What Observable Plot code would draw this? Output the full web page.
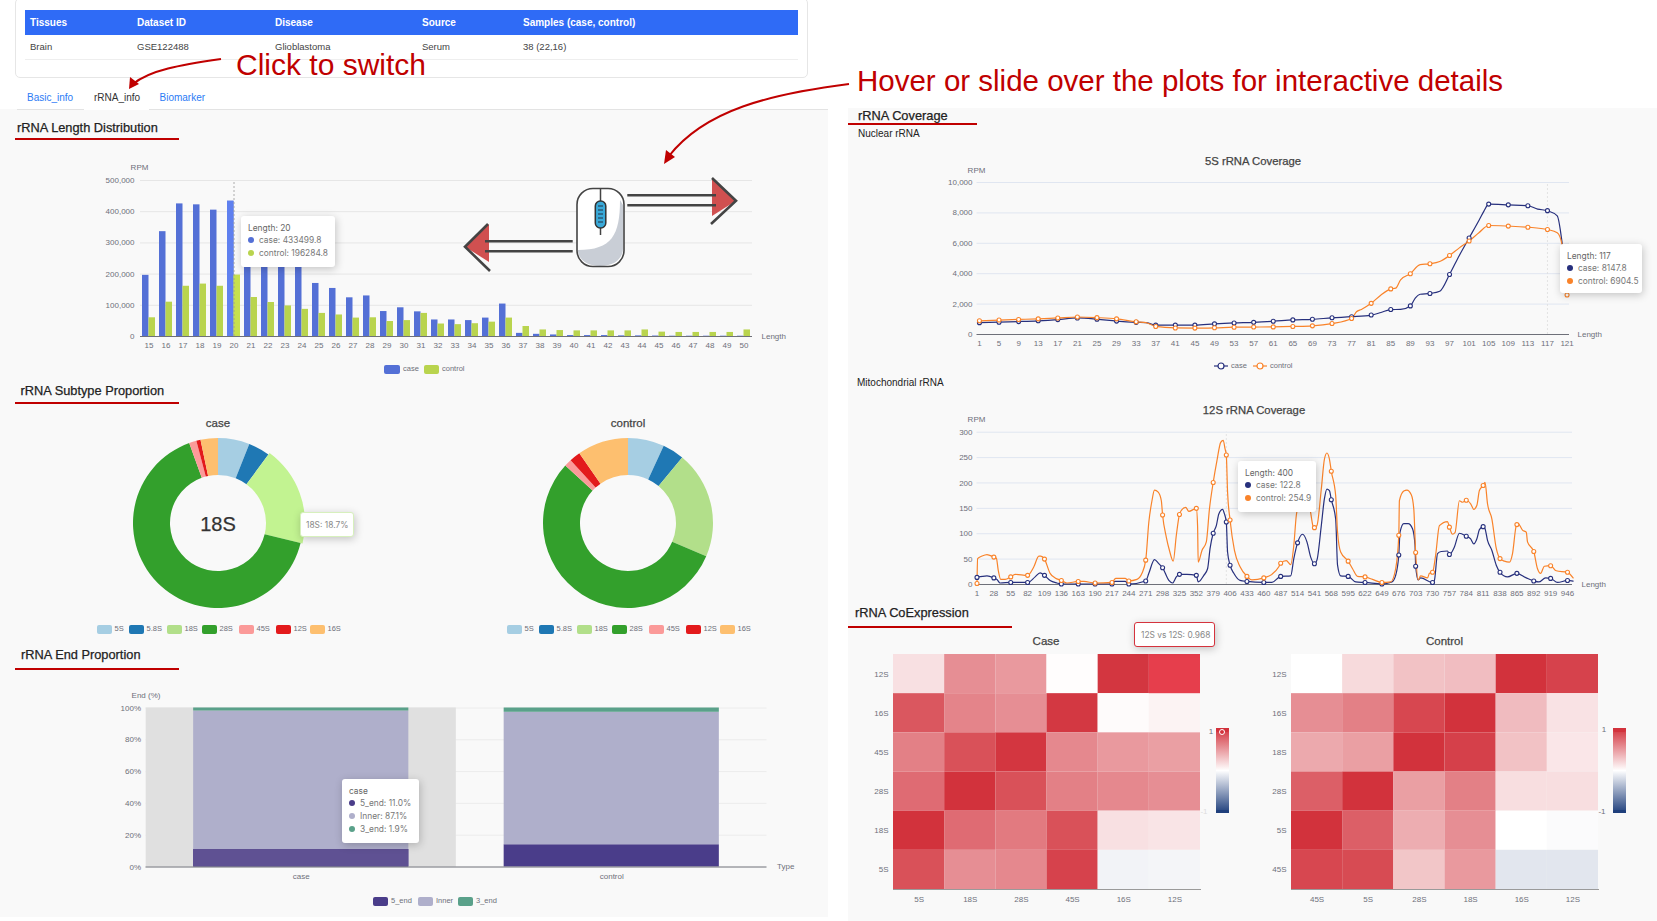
<!DOCTYPE html>
<html><head><meta charset="utf-8">
<script src="https://cdn.jsdelivr.net/npm/d3@7"></script>
<script src="https://cdn.jsdelivr.net/npm/@observablehq/plot@0.6"></script>
<style>
html,body{margin:0;padding:0;background:#fff;}
#app{position:relative;width:1657px;height:921px;overflow:hidden;background:#fff;font-family:"Liberation Sans",Arial,sans-serif;}
#app svg{position:absolute;}
.t{position:absolute;white-space:nowrap;line-height:1;}
.box{position:absolute;}
.tip{position:absolute;background:#fff;border-radius:3px;box-shadow:1px 2px 8px rgba(0,0,0,.22);font:8.4px Inter,sans-serif;color:#666;box-sizing:border-box;}
.tip div{position:absolute;white-space:nowrap;line-height:1;}
.tip i{position:absolute;width:6px;height:6px;border-radius:50%;}
</style></head><body><div id="app"></div>
<script>
// ---------- data ----------
const lengths = [15,16,17,18,19,20,21,22,23,24,25,26,27,28,29,30,31,32,33,34,35,36,37,38,39,40,41,42,43,44,45,46,47,48,49,50];
const caseRPM = [196000,336000,425000,422000,405000,433500,258000,240000,235000,228000,170000,154000,124000,130000,80000,92000,79000,53000,53000,51000,59000,104000,10000,7000,5000,3000,3000,3000,2000,2000,1500,1000,1000,1000,1000,1000];
const controlRPM = [60000,110000,161000,168000,161000,196285,125000,109000,98000,87000,74000,69000,59000,60000,48000,51000,74000,40000,38000,41000,46000,59000,32000,21000,19000,18000,18000,18000,18000,21000,14000,13000,13000,13000,13000,21000];
const subtypes = ["5S","5.8S","18S","28S","45S","12S","16S"];
const subtypeColors = ["#a6cee3","#1f78b4","#b2df8a","#33a02c","#fb9a99","#e31a1c","#fdbf6f"];
const casePct = [6.0,4.1,18.7,65.7,1.4,0.8,3.3];
const controlPct = [6.9,4.1,20.4,55.4,1.4,2.1,9.7];
const endTypes = ["5_end","Inner","3_end"];
const endColors = ["#4a3d8a","#afafcb","#5aa18a"];
const endCase = [11.0,87.1,1.9];
const endControl = [14.0,83.3,2.7];
const s5Ticks = [1,5,9,13,17,21,25,29,33,37,41,45,49,53,57,61,65,69,73,77,81,85,89,93,97,101,105,109,113,117,121];
const s5CaseX = [1,5,9,13,17,21,25,29,33,35,37,41,45,49,53,57,61,65,69,73,77,81,83,85,87,89,90,91,93,95,97,99,101,103,104,105,109,113,115,117,119,120,121];
const s5CaseY = [780,810,850,900,980,1090,1010,880,800,780,620,620,620,700,760,800,870,960,1000,1100,1170,1280,1450,1640,1650,1880,2400,2650,2700,2850,3950,5200,6350,7500,8100,8580,8530,8470,8250,8148,7800,6000,3000];
const s5ControlX = [1,5,9,13,17,21,25,29,33,35,37,41,45,49,53,57,61,65,69,73,77,78,79,81,83,85,86,87,89,91,93,95,97,99,101,103,105,109,113,117,119,120,121];
const s5ControlY = [900,950,990,1030,1090,1150,1110,1030,840,780,530,430,420,440,480,490,500,530,570,720,1050,1500,1650,2050,2600,3000,3050,3600,4000,4600,4650,4800,5200,5700,6150,6700,7170,7130,7060,6905,6700,5900,2600];
const s12Ticks = [1,28,55,82,109,136,163,190,217,244,271,298,325,352,379,406,433,460,487,514,541,568,595,622,649,676,703,730,757,784,811,838,865,892,919,946];
const s12ControlX = [1,2,9,17,28,32,35,39,46,55,62,82,92,100,103,109,118,126,136,145,163,172,190,217,223,238,244,257,265,271,276,281,285,291,296,298,304,309,315,320,325,328,335,340,352,354,355,361,368,373,379,385,391,395,398,400,402,406,413,422,433,441,460,473,484,487,496,503,508,512,514,522,530,535,539,541,545,552,557,561,565,568,575,578,583,595,602,610,622,634,649,663,671,676,677,684,689,696,700,703,707,711,722,725,730,735,741,754,757,762,766,773,778,784,791,796,801,805,811,814,818,825,832,838,845,853,858,864,865,867,874,880,882,892,898,903,909,919,928,946,955];
const s12ControlY = [2,51,56,59,54,52,28,10,10,15,20,18,35,56,56,50,22,13,8,3,6,6,3,4,12,12,7,10,22,48,123,165,186,182,165,137,93,67,46,97,138,146,152,144,150,116,44,67,84,149,201,244,280,284,267,255,182,127,67,35,16,9,13,20,35,42,47,39,77,136,150,178,175,141,114,112,116,188,247,259,247,223,175,103,64,46,31,16,15,10,4,5,31,97,165,184,186,177,149,63,9,17,13,22,24,58,116,124,113,99,102,165,162,166,159,148,156,185,195,201,159,129,71,51,46,44,61,116,118,120,107,103,84,65,31,22,36,37,27,24,13];
const s12CaseX = [1,17,28,33,38,55,82,94,102,109,118,129,136,163,190,217,222,238,244,271,276,285,292,298,308,314,320,325,337,352,355,364,370,374,379,384,388,394,397,400,402,406,412,422,433,460,473,484,487,503,508,514,522,529,535,541,545,552,557,561,565,568,575,578,583,595,607,622,649,665,671,676,678,684,691,698,702,703,707,711,730,733,738,744,754,757,765,773,784,791,796,801,805,811,814,818,825,832,838,850,865,880,892,900,911,919,930,946,955];
const s12CaseY = [14,17,13,10,3,4,4,15,23,18,8,3,1,1,1,1,6,6,1,7,22,49,41,33,8,3,15,20,20,18,5,18,31,71,101,116,139,148,139,123,64,38,22,8,6,4,4,14,16,17,51,82,99,84,54,41,48,116,169,188,185,167,129,38,17,16,5,4,1,5,18,58,103,120,120,110,77,36,9,13,4,8,61,65,66,59,74,101,95,90,80,90,108,114,110,87,67,38,24,15,22,13,7,5,13,12,4,8,6.5];
const heatCaseX = ["5S","18S","28S","45S","16S","12S"];
const heatCaseY = ["12S","16S","45S","28S","18S","5S"];
const heatCaseV = [[.15,.55,.50,.01,.98,.968],[.82,.60,.55,.97,.02,.06],[.62,.85,.98,.58,.50,.47],[.72,1,.85,.62,.58,.55],[1,.72,.65,.85,.15,.13],[.85,.55,.58,.92,-.06,-.05]];
const heatControlX = ["45S","5S","28S","18S","16S","12S"];
const heatControlY = ["12S","16S","18S","28S","5S","45S"];
const heatControlV = [[0,.18,.30,.32,1,.92],[.55,.62,.90,1,.33,.14],[.42,.47,1,.93,.30,.12],[.78,1,.47,.62,.16,.16],[1,.78,.40,.55,0,-.02],[.90,.88,.28,.50,-.13,-.13]];
const tableHead = ["Tissues","Dataset ID","Disease","Source","Samples (case, control)"];
const tableRow = ["Brain","GSE122488","Glioblastoma","Serum","38 (22,16)"];

// ---------- helpers ----------
const app = document.getElementById("app");
const FONT = "'Liberation Sans', Arial, sans-serif";
const GREY = "#6e7079";
const CASEC = "#27307d", CTRLC = "#f9832a";
function box(x,y,w,h,css){const d=document.createElement("div");d.className="box";d.style.cssText=`left:${x}px;top:${y}px;width:${w}px;height:${h}px;${css||""}`;app.appendChild(d);return d;}
function txt(x,y,s,o={}){const d=document.createElement("div");d.className="t";d.textContent=s;
  const a=o.anchor==="middle"?"-50%":o.anchor==="end"?"-100%":"0";
  d.style.cssText=`left:${x}px;top:${y}px;transform:translate(${a},-50%);font-size:${o.size||10}px;color:${o.color||"#333"};font-weight:${o.weight||400};font-family:${o.font||FONT};${o.med?"-webkit-text-stroke:.25px currentColor;":""}`;
  app.appendChild(d);return d;}
function mount(p,left,top){p.style.left=left+"px";p.style.top=top+"px";app.appendChild(p);}
const baseStyle = {background:"transparent",fontFamily:FONT,fontSize:"8px",color:GREY,overflow:"visible"};
function section(title,x,y,uy,uw,ux){txt(x,y,title,{size:12.8,color:"#222",med:true});box(ux,uy,uw,2,"background:#c00000");}
function tip(x,y,w,h,head,rows){const d=document.createElement("div");d.className="tip";d.style.cssText=`left:${x}px;top:${y}px;width:${w}px;height:${h}px;`;
  let html=`<div style="left:7px;top:8px;color:#666;">${head}</div>`;
  rows.forEach((r,i)=>{const ty=21+i*13;html+=`<i style="left:7px;top:${ty}px;background:${r[0]}"></i><div style="left:18px;top:${ty-1}px;color:#777;">${r[1]}</div>`;});
  d.innerHTML=html;app.appendChild(d);}
function swatch(x,y,w,h,c){box(x,y-h/2,w,h,`background:${c};border-radius:2px`);}
function lab(x,y,s){txt(x,y,s,{size:7.5,color:GREY});}

// ---------- page panels ----------
box(0,109,828,808,"background:#f9f9f9");
box(848,108,809,813,"background:#f9f9f9");
box(15,-2,793,80,"background:#fff;border:1px solid #e6e6e6;border-radius:5px;box-sizing:border-box");
box(25,10,773,25,"background:#2f6bf6");
box(25,59,773,1,"background:#eee");
[30,137,275,422,523].forEach((x,i)=>{txt(x,23,tableHead[i],{size:10,color:"#fff",weight:700});txt(x,47,tableRow[i],{size:9.5,color:"#444"});});
box(17,109,811,1,"background:#e3e3e3");
box(84,87,65,23,"background:#fff");
txt(27,98,"Basic_info",{size:10,color:"#2b7bf5"});
txt(94,98,"rRNA_info",{size:10,color:"#333"});
txt(159.5,98,"Biomarker",{size:10,color:"#2b7bf5"});
section("rRNA Length Distribution",17,128,138,164,15);
section("rRNA Subtype Proportion",20.5,391,402,164,15);
section("rRNA End Proportion",21,655,668,164,15);
section("rRNA Coverage",858,116,123,129,848);
section("rRNA CoExpression",855,613,626,164,848);
txt(858,134,"Nuclear rRNA",{size:10,color:"#222"});
txt(857,383,"Mitochondrial rRNA",{size:10,color:"#222"});

// ---------- length distribution bars ----------
const lenRows = lengths.map((l,i)=>({length:l,case:caseRPM[i],control:controlRPM[i]}));
mount(Plot.plot({width:830,height:230,marginLeft:140,marginRight:78,marginTop:30,marginBottom:44,style:baseStyle,
  x:{type:"band",domain:lengths,padding:0,round:false},
  y:{domain:[0,500000]},
  color:{domain:["case","control"],range:["#5470d6","#b9d44e"]},
  marks:[
    Plot.gridY({ticks:[100000,200000,300000,400000,500000],stroke:"#e6e6e6",strokeOpacity:1}),
    Plot.barY(lenRows,{x:"length",y:"case",fill:()=>"case",insetLeft:2,insetRight:8.5}),
    Plot.barY(lenRows,{x:"length",y:"control",fill:()=>"control",insetLeft:8.5,insetRight:2}),
    Plot.barY(lenRows.filter(d=>d.length===20),{x:"length",y:"case",fill:"#5f80ef",insetLeft:2,insetRight:8.5}),
    Plot.barY(lenRows.filter(d=>d.length===20),{x:"length",y:"control",fill:"#c6e04e",insetLeft:8.5,insetRight:2}),
    Plot.ruleX([20],{x:d=>d,y1:0,y2:500000,stroke:"#999",strokeWidth:.8,strokeDasharray:"2,2"}),
    Plot.ruleY([0],{stroke:GREY,strokeWidth:1}),
    Plot.axisY({ticks:[0,100000,200000,300000,400000,500000],tickSize:0,tickPadding:6,tickFormat:d3.format(","),label:null}),
    Plot.axisX({tickSize:0,tickPadding:6,label:null}),
    Plot.text(["RPM"],{text:d=>d,frameAnchor:"top-left",dx:-1,dy:-16,textAnchor:"middle"}),
    Plot.text(["Length"],{text:d=>d,frameAnchor:"bottom-right",dx:9,dy:2,textAnchor:"start"})
  ]}),0,150);
swatch(384,369,16,9,"#5470d6");lab(403,369,"case");
swatch(424,369,15,9,"#b9d44e");lab(442,369,"control");
tip(241,216,94,51,"Length: 20",[["#5470d6","case: 433499.8"],["#b9d44e","control: 196284.8"]]);

// ---------- donuts ----------
function donut(pct,cx,hover){
  const rows=subtypes.map((t,i)=>({type:t,pct:pct[i]}));
  const size=200;
  const render=(index,scales,values,dims)=>{
    const g=d3.create("svg:g").attr("transform",`translate(${dims.width/2},${dims.height/2})`);
    const span=dims.width-dims.marginLeft-dims.marginRight;
    const ang=v=>(v-dims.marginLeft)/span*2*Math.PI;
    for(const i of index){
      const hot=rows[i].type===hover;
      g.append("path").attr("d",d3.arc()({innerRadius:48,outerRadius:hot?87:85,startAngle:ang(values.x1[i]),endAngle:ang(values.x2[i])}))
       .attr("fill",hot?"#c2f391":values.fill[i]);
    }
    return g.node();
  };
  mount(Plot.plot({width:size,height:size,margin:0,style:baseStyle,
    x:{domain:[0,100],axis:null},
    color:{domain:subtypes,range:subtypeColors},
    marks:[Plot.barX(rows,Plot.stackX({x:"pct",fill:"type",render}))]}),cx-size/2,523-size/2);
}
donut(casePct,218,"18S");
donut(controlPct,628,null);
txt(218,423.5,"case",{size:11.5,color:"#444",anchor:"middle",med:true});
txt(628,423.5,"control",{size:11.5,color:"#444",anchor:"middle",med:true});
txt(218,524,"18S",{size:20,color:"#333",anchor:"middle",med:true});
function dLegend(x0){const xs=[0,32,70,105,142,179,213];
  subtypes.forEach((t,i)=>{swatch(x0+xs[i],629,15,9,subtypeColors[i]);lab(x0+xs[i]+18,629,t);});}
dLegend(96.5);dLegend(506.5);
const hb=document.createElement("div");hb.className="tip";hb.style.cssText="left:300px;top:512px;width:54px;height:25px;border:1px solid #d7f0bd;";
hb.innerHTML='<div style="left:5px;top:8px;color:#888;">18S: 18.7%</div>';app.appendChild(hb);

// ---------- end proportion ----------
const endRows=[];
endTypes.forEach((t,i)=>{endRows.push({type:"case",end:t,v:endCase[i]});endRows.push({type:"control",end:t,v:endControl[i]});});
mount(Plot.plot({width:830,height:220,marginLeft:145.5,marginRight:63.5,marginTop:27.5,marginBottom:33.5,style:baseStyle,
  x:{type:"band",domain:["case","control"],paddingInner:0.307,paddingOuter:0.1535,round:false},
  y:{domain:[0,100]},
  color:{domain:endTypes,range:endColors},
  marks:[
    Plot.gridY({ticks:[20,40,60,80,100],stroke:"#ececec",strokeOpacity:1}),
    Plot.barY(["case"],{x:d=>d,y:()=>100,fill:"#e0e0e0",insetLeft:-47.5,insetRight:-47.5}),
    Plot.barY(endRows,Plot.stackY({x:"type",y:"v",fill:"end",order:null})),
    Plot.barY(endRows.filter(d=>d.type==="case"&&d.end==="5_end"),{x:"type",y:"v",fill:"#5f5193"}),
    Plot.ruleY([0],{stroke:GREY,strokeWidth:1}),
    Plot.axisY({ticks:[0,20,40,60,80,100],tickSize:0,tickPadding:5,tickFormat:d=>d+"%",label:null}),
    Plot.axisX({tickSize:0,tickPadding:6,label:null}),
    Plot.text(["End (%)"],{text:d=>d,frameAnchor:"top-left",dx:0,dy:-16,textAnchor:"middle"}),
    Plot.text(["Type"],{text:d=>d,frameAnchor:"bottom-right",dx:10,dy:2,textAnchor:"start"})
  ]}),0,680);
[373,418,458].forEach((x,i)=>{swatch(x,901,15,9,endColors[i]);lab(x+18,901,endTypes[i]);});
tip(342,779,77,64,"case",[["#4a3d8a","5_end: 11.0%"],["#afafcb","Inner: 87.1%"],["#5aa18a","3_end: 1.9%"]]);

// ---------- coverage lines ----------
function series(xs,ys,name){return xs.map((x,i)=>({x,y:ys[i],s:name}));}
const lineColor={domain:["case","control"],range:[CASEC,CTRLC]};
function coverage(o){
  const data=[...series(o.cx,o.cy,"case"),...series(o.tx,o.ty,"control")];
  const marked=data.filter(d=>o.ticks.includes(d.x)||d.x===o.hoverAt);
  const yT=o.yTicks;
  mount(Plot.plot({width:809,height:o.height,marginLeft:128.5,marginRight:o.mr,marginTop:o.mt,marginBottom:o.mb,style:baseStyle,
    x:{domain:o.xd},y:{domain:[0,yT[yT.length-1]]},color:lineColor,
    marks:[
      Plot.gridY({ticks:yT.slice(1),stroke:"#e0e6f1",strokeOpacity:1}),
      Plot.ruleX([o.hoverAt],{y1:0,y2:yT[yT.length-1],stroke:"#ddd",strokeWidth:.8,strokeDasharray:"2,2"}),
      Plot.ruleY([0],{stroke:GREY,strokeWidth:1}),
      Plot.line(data,{x:"x",y:"y",z:"s",stroke:"s",strokeWidth:1.2,curve:"monotone-x"}),
      Plot.dot(marked,{x:"x",y:"y",stroke:"s",fill:"#fff",r:2,strokeWidth:1.1}),
      Plot.axisY({ticks:yT,tickSize:0,tickPadding:4.5,tickFormat:d3.format(","),label:null}),
      Plot.axisX({ticks:o.ticks,tickSize:0,tickPadding:o.tp,tickFormat:d=>d,label:null}),
      Plot.text(["RPM"],{text:d=>d,frameAnchor:"top-left",dx:-0.5,dy:-15.5,textAnchor:"middle"}),
      Plot.text(["Length"],{text:d=>d,frameAnchor:"bottom-right",dx:o.ldx,dy:2.5,textAnchor:"start"})
    ]}),848,o.top);
}
coverage({cx:s5CaseX,cy:s5CaseY,tx:s5ControlX,ty:s5ControlY,ticks:s5Ticks,hoverAt:117,xd:[0.5,121.5],yTicks:[0,2000,4000,6000,8000,10000],
  height:200,top:152,mt:30,mb:18,mr:88,ldx:8,tp:6});
coverage({cx:s12CaseX,cy:s12CaseY,tx:s12ControlX,ty:s12ControlY,ticks:s12Ticks,hoverAt:400,xd:[1,954],yTicks:[0,50,100,150,200,250,300],
  height:184,top:402,mt:29.7,mb:2,mr:85,ldx:9,tp:6});
function lineLegend(x,c){const s=document.createElementNS("http://www.w3.org/2000/svg","svg");s.setAttribute("width",16);s.setAttribute("height",10);
  s.style.cssText=`left:${x}px;top:361px;`;s.innerHTML=`<line x1="1" x2="15" y1="5" y2="5" stroke="${c}" stroke-width="1.2"/><circle cx="8" cy="5" r="3" fill="#fff" stroke="${c}" stroke-width="1.2"/>`;app.appendChild(s);}
lineLegend(1213,CASEC);lab(1231,366,"case");lineLegend(1252,CTRLC);lab(1270,366,"control");
txt(1253,161.5,"5S rRNA Coverage",{size:11.3,color:"#444",anchor:"middle",med:true});
txt(1254,410.5,"12S rRNA Coverage",{size:11.3,color:"#444",anchor:"middle",med:true});
tip(1560,244,82,49,"Length: 117",[[CASEC,"case: 8147.8"],[CTRLC,"control: 6904.5"]]);
tip(1238,461,78,51,"Length: 400",[[CASEC,"case: 122.8"],[CTRLC,"control: 254.9"]]);

// ---------- heatmaps ----------
const heatColor={type:"linear",domain:[-1,0,1],range:["#1f3f7c","#ffffff","#d2323c"],clamp:true};
function heat(xs,ys,V,left,hot){
  const cells=[];ys.forEach((y,r)=>xs.forEach((x,c)=>cells.push({x,y,v:V[r][c]})));
  mount(Plot.plot({width:360,height:270,marginLeft:53,marginRight:0,marginTop:13,marginBottom:22,style:baseStyle,
    x:{domain:xs,padding:0,round:false},y:{domain:ys,padding:0,round:false},color:heatColor,
    marks:[
      Plot.cell(cells,{x:"x",y:"y",fill:"v"}),
      ...(hot?[Plot.cell(cells.filter(d=>d.x===hot&&d.y===hot),{x:"x",y:"y",fill:"#e63e4c"})]:[]),
      Plot.frame({anchor:"bottom",stroke:"#9a9a9a"}),
      Plot.axisY({tickSize:0,tickPadding:5,label:null}),
      Plot.axisX({tickSize:0,tickPadding:7,label:null})
    ]}),left-53,640.5);
}
heat(heatCaseX,heatCaseY,heatCaseV,893,"12S");
heat(heatControlX,heatControlY,heatControlV,1291,null);
txt(1046,642,"Case",{size:11.5,color:"#444",anchor:"middle",med:true});
txt(1444.5,642,"Control",{size:11.5,color:"#444",anchor:"middle",med:true});
function vmap(x,w){
  box(x,728,w,85,"background:linear-gradient(#d2323c,#fff 50%,#1f3f7c);");
  box(x,728,w,3.5,"background:#d2323c;border-radius:2px");
  box(x,809.5,w,3.5,"background:#1f3f7c;border-radius:2px");
}
vmap(1216,12.5);vmap(1613,13);
txt(1211,732,"1",{size:8,color:GREY,anchor:"middle"});
txt(1204,812,"-1",{size:8,color:"#ddd",anchor:"middle"});
txt(1604,730,"1",{size:8,color:GREY,anchor:"middle"});
txt(1602,812,"-1",{size:8,color:GREY,anchor:"middle"});
box(1219,729,6,6,"background:#d2323c;border:1.5px solid #fff;border-radius:50%;box-sizing:border-box");
const ht=document.createElement("div");ht.className="tip";ht.style.cssText="left:1134px;top:622px;width:81px;height:25px;border:1px solid #d5333d;";
ht.innerHTML='<div style="left:6px;top:8px;color:#888;font-size:8.4px;">12S vs 12S: 0.968</div>';app.appendChild(ht);

// ---------- annotations ----------
txt(236,65,"Click to switch",{size:30,color:"#c00000"});
txt(857,81,"Hover or slide over the plots for interactive details",{size:29.5,color:"#c00000"});
const over=document.createElementNS("http://www.w3.org/2000/svg","svg");
over.setAttribute("width",1657);over.setAttribute("height",921);over.style.cssText="left:0;top:0;pointer-events:none;";
over.innerHTML=`
<path d="M221 59 C180 65 150 70 133 84" fill="none" stroke="#c00000" stroke-width="2.2"/>
<path d="M129 89 L130 77 L139 84 Z" fill="#c00000"/>
<path d="M849 84 C770 94 705 110 669 156" fill="none" stroke="#c00000" stroke-width="2"/>
<path d="M664 164 L666 150 L675 157 Z" fill="#c00000"/>
<g fill="none" stroke-linecap="butt">
<path d="M712 178 L736 200.7 L712 216 Z" fill="#d05050" stroke="none"/>
<path d="M712 178 L736 200.7 L711 224" stroke="#444" stroke-width="2.6"/>
<path d="M627.3 195.3 H716 M627.3 205.3 H716" stroke="#444" stroke-width="2.6"/>
<path d="M489 224 L465 246.7 L489 262 Z" fill="#d05050" stroke="none"/>
<path d="M488 224 L465 246.7 L490 271" stroke="#444" stroke-width="2.6"/>
<path d="M485 241.3 H572.7 M485 251.3 H572.7" stroke="#444" stroke-width="2.6"/>
<rect x="577" y="188.5" width="47" height="78" rx="16" fill="#fff" stroke="none"/>
<path d="M620 200 C620 235 612 250 578 250 L578 252 C580 262 590 266 600 266 C615 266 623 258 623 248 L623 205 Z" fill="#c9ced6"/>
<rect x="577" y="188.5" width="47" height="78" rx="16" stroke="#444" stroke-width="1.6"/>
<path d="M600.5 188.5 V201 M600.5 228 V235" stroke="#444" stroke-width="1.5"/>
<rect x="595.3" y="201" width="10.5" height="27" rx="5" fill="#3aa9d8" stroke="#333" stroke-width="1.5"/>
<path d="M598 206 H603 M598 210 H603 M598 214 H603 M598 218 H603 M598 222 H603" stroke="#234" stroke-width="1.2"/>
</g>`;
app.appendChild(over);
</script></body></html>
